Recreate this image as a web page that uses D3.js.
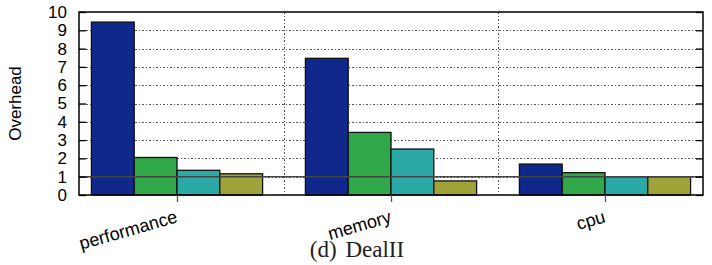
<!DOCTYPE html>
<meta charset="utf-8">
<style type="text/css">

body {
  margin: 0;
  background: #fff;
}

svg {
  font-family: "Liberation Sans", Helvetica, Arial, sans-serif;
}

.grid line {
  stroke: #555;
  stroke-width: 1px;
  stroke-dasharray: 1.5, 2;
  shape-rendering: crispEdges;
}

.bar {
  stroke: #111;
  stroke-width: 1.3px;
}

</style>
<body>

<div id="svgContainer"></div>

<script src="https://d3js.org/d3.v7.min.js"></script>
<script>
var width = 712,
    height = 265;

// data
var categories = ['performance', 'memory', 'cpu'];
var seriesA = [9.45, 7.47, 1.69];
var seriesB = [2.05, 3.42, 1.22];
var seriesC = [1.35, 2.51, 1.0];
var seriesD = [1.16, 0.77, 1.0];
var yTicks = [0, 1, 2, 3, 4, 5, 6, 7, 8, 9, 10];
var baseline = 1;

var allSeries = [seriesA, seriesB, seriesC, seriesD];
var colors = ['#10288c', '#30a84a', '#2ba9a6', '#a0a33a'];

var plot = { left: 79, right: 703, top: 12, bottom: 195 };

var svg = d3.select('#svgContainer').append('svg')
    .attr('width', width)
    .attr('height', height);

// clusters of 4 bars plus a one-bar gap
var x = d3.scaleLinear()
    .domain([-0.458, categories.length - 1 + 0.458])
    .range([plot.left, plot.right]);

var y = d3.scaleLinear()
    .domain([0, 10])
    .range([plot.bottom, plot.top]);

var barWidth = (x(1) - x(0)) / 5;

// grid
var grid = svg.append('g').attr('class', 'grid');
grid.selectAll('line.h')
    .data(yTicks.slice(1, -1))
  .enter()
    .append('line')
      .attr('class', 'h')
      .attr('x1', plot.left)
      .attr('x2', plot.right)
      .attr('y1', function(d) { return Math.round(y(d)) + 0.5; })
      .attr('y2', function(d) { return Math.round(y(d)) + 0.5; });

grid.selectAll('line.v')
    .data(d3.range(categories.length - 1))
  .enter()
    .append('line')
      .attr('class', 'v')
      .attr('x1', function(d) { return Math.round(x(d + 0.5)) + 0.5; })
      .attr('x2', function(d) { return Math.round(x(d + 0.5)) + 0.5; })
      .attr('y1', plot.top)
      .attr('y2', plot.bottom);

// bars
var barData = [];
allSeries.forEach(function(s, si) {
  s.forEach(function(v, ci) {
    barData.push({ series: si, cat: ci, value: v });
  });
});

svg.append('g')
  .selectAll('rect')
    .data(barData)
  .enter()
    .append('rect')
      .attr('class', 'bar')
      .attr('x', function(d) { return x(d.cat) + (d.series - 2) * barWidth; })
      .attr('width', barWidth)
      .attr('y', function(d) { return y(d.value); })
      .attr('height', function(d) { return y(0) - y(d.value); })
      .attr('fill', function(d) { return colors[d.series]; });

// reference line at 1
svg.append('line')
    .attr('x1', plot.left)
    .attr('x2', plot.right)
    .attr('y1', y(baseline))
    .attr('y2', y(baseline))
    .attr('stroke', '#444')
    .attr('stroke-width', 1.5);

// frame
svg.append('rect')
    .attr('x', plot.left)
    .attr('y', plot.top)
    .attr('width', plot.right - plot.left)
    .attr('height', plot.bottom - plot.top)
    .attr('fill', 'none')
    .attr('stroke', '#000')
    .attr('stroke-width', 1.5);

// y axis, ticks mirrored inside on both sides
var yAxis = svg.append('g')
    .attr('transform', 'translate(' + plot.left + ',0)')
    .call(d3.axisLeft(y).tickValues(yTicks).tickSize(-7).tickPadding(12));
yAxis.select('.domain').remove();
yAxis.selectAll('text')
    .attr('font-size', 17)
    .attr('fill', '#000')
    .attr('font-family', '"Liberation Sans", Arial, sans-serif');
yAxis.selectAll('.tick line').attr('stroke-width', 1.3);

var yAxisR = svg.append('g')
    .attr('transform', 'translate(' + plot.right + ',0)')
    .call(d3.axisRight(y).tickValues(yTicks).tickSize(-7).tickFormat(''));
yAxisR.select('.domain').remove();
yAxisR.selectAll('.tick line').attr('stroke-width', 1.3);

// x axis
var xAxis = svg.append('g')
    .attr('transform', 'translate(0,' + plot.bottom + ')')
    .call(d3.axisBottom(x)
      .tickValues(d3.range(categories.length))
      .tickSize(7)
      .tickFormat(function(i) { return categories[i]; }));
xAxis.select('.domain').remove();
xAxis.selectAll('.tick line').attr('stroke', '#555').attr('stroke-width', 1.3);
xAxis.selectAll('text')
    .attr('font-size', 18)
    .attr('fill', '#000')
    .attr('font-family', '"Liberation Sans", Arial, sans-serif')
    .attr('text-anchor', 'end')
    .attr('dy', 0)
    .attr('y', 0)
    .attr('transform', 'translate(1,27) rotate(-16)');

// axis title
svg.append('text')
    .attr('transform', 'translate(21,' + ((plot.top + plot.bottom) / 2) + ') rotate(-90)')
    .attr('text-anchor', 'middle')
    .attr('font-size', 17)
    .text('Overhead');

// caption
svg.append('text')
    .attr('x', 357)
    .attr('y', 257)
    .attr('text-anchor', 'middle')
    .attr('font-family', '"Liberation Serif", "Times New Roman", serif')
    .attr('font-size', 23)
    .attr('fill', '#222')
    .attr('word-spacing', 3)
    .text('(d) DealII');
</script>
